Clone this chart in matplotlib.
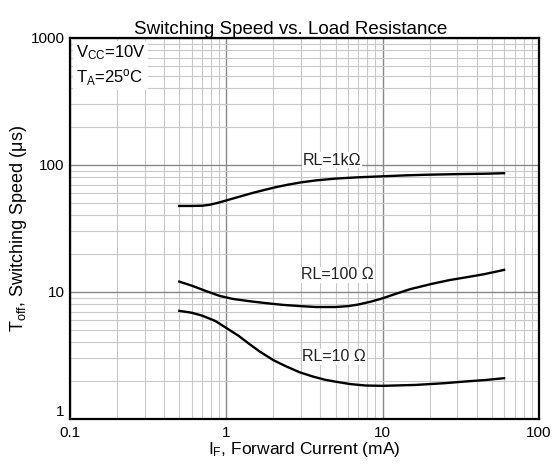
import matplotlib.pyplot as plt
import numpy as np
from matplotlib.ticker import FixedLocator, NullFormatter

plt.rcParams['font.family'] = ['Liberation Sans', 'DejaVu Sans']

# forward current (mA) and switching time (us)
if_1k = [0.5, 0.6, 0.7, 0.78, 0.88, 1.0, 1.2, 1.5, 1.8, 2.1, 2.5, 3.0, 3.75, 5.0, 6.9, 10, 14, 18.9, 30, 45, 60]
t_1k = [47.5, 47.5, 47.7, 48.5, 50.2, 52.5, 56, 60.5, 64, 67, 70, 72.8, 75.5, 78, 79.8, 81.3, 82.7, 83.6, 84.6, 85.2, 86]

if_100 = [0.5, 0.6, 0.75, 0.905, 1.1, 1.4, 1.8, 2.3, 3.0, 3.75, 5.0, 6.0, 7.0, 8.5, 10, 12, 15, 20.9, 27, 34, 45, 60]
t_100 = [12.05, 11.2, 10.1, 9.3, 8.8, 8.45, 8.15, 7.9, 7.72, 7.6, 7.6, 7.72, 7.95, 8.4, 8.9, 9.6, 10.5, 11.6, 12.4, 13.0, 13.8, 14.9]

if_10 = [0.5, 0.6, 0.7, 0.85, 1.0, 1.2, 1.4, 1.63, 2.0, 2.4, 2.94, 3.6, 4.3, 5.03, 6.2, 7.8, 10, 16.3, 25, 34, 45, 60]
t_10 = [7.09, 6.85, 6.5, 5.9, 5.2, 4.5, 3.9, 3.4, 2.9, 2.6, 2.33, 2.15, 2.03, 1.96, 1.88, 1.83, 1.82, 1.85, 1.91, 1.97, 2.02, 2.09]

curve_labels = ['RL=1k\u03a9', 'RL=100 \u03a9', 'RL=10 \u03a9']
label_pos = [(4.74, 109), (5.15, 13.6), (4.9, 3.09)]

x_ticks = [0.1, 1, 10, 100]
x_ticklabels = ['0.1', '1', '10', '100']
y_ticks = [1, 10, 100, 1000]
y_ticklabels = ['1', '10', '100', '1000']

fig = plt.figure(figsize=(5.52, 4.68), dpi=100)
ax = fig.add_axes([0.127, 0.105, 0.849, 0.814])

ax.set_xscale('log')
ax.set_yscale('log')
ax.set_xlim(0.1, 100)
ax.set_ylim(1, 1000)

ax.plot(if_1k, t_1k, color='black', lw=1.7)
ax.plot(if_100, t_100, color='black', lw=1.7)
ax.plot(if_10, t_10, color='black', lw=1.7)

for txt, (px, py) in zip(curve_labels, label_pos):
    ax.text(px, py, txt, ha='center', va='center', fontsize=11.5, color='#222222',
            bbox=dict(facecolor='white', edgecolor='none', pad=0.5))

ax.xaxis.set_major_locator(FixedLocator(x_ticks))
ax.set_xticklabels(x_ticklabels)
ax.yaxis.set_major_locator(FixedLocator(y_ticks))
ax.set_yticklabels(y_ticklabels)
minors_x = [m * 10.0 ** d for d in range(-1, 2) for m in range(2, 10)]
minors_y = [m * 10.0 ** d for d in range(0, 3) for m in range(2, 10)]
ax.xaxis.set_minor_locator(FixedLocator(minors_x))
ax.yaxis.set_minor_locator(FixedLocator(minors_y))
ax.xaxis.set_minor_formatter(NullFormatter())
ax.yaxis.set_minor_formatter(NullFormatter())

ax.grid(which='major', color='#888888', lw=1.0)
ax.grid(which='minor', color='#c8c8c8', lw=0.8)
ax.set_axisbelow(True)
ax.tick_params(which='both', length=0, labelsize=11, pad=4)
ax.tick_params(axis='x', pad=5)
# lift the bottom y label a little so it sits clear of the first x label
ax.get_yticklabels()[0].set_va('bottom')

for s in ax.spines.values():
    s.set_linewidth(1.6)

ax.text(0.012, 0.985, '$\\mathregular{V_{CC}}$=10V\n$\\mathregular{T_{A}}$=25$\\mathregular{^{o}}$C',
        transform=ax.transAxes, ha='left', va='top', fontsize=12, linespacing=1.3,
        bbox=dict(facecolor='white', edgecolor='none', pad=2))

ax.set_title('Switching Speed vs. Load Resistance', fontsize=13.5, pad=2, x=0.47)
ax.set_xlabel('$\\mathregular{I_F}$, Forward Current (mA)', fontsize=12.5, labelpad=0)
ax.set_ylabel('$\\mathregular{T_{off}}$, Switching Speed ($\\mathregular{\\mu}$s)', fontsize=13, labelpad=1)

fig.savefig('out.png', dpi=100)
